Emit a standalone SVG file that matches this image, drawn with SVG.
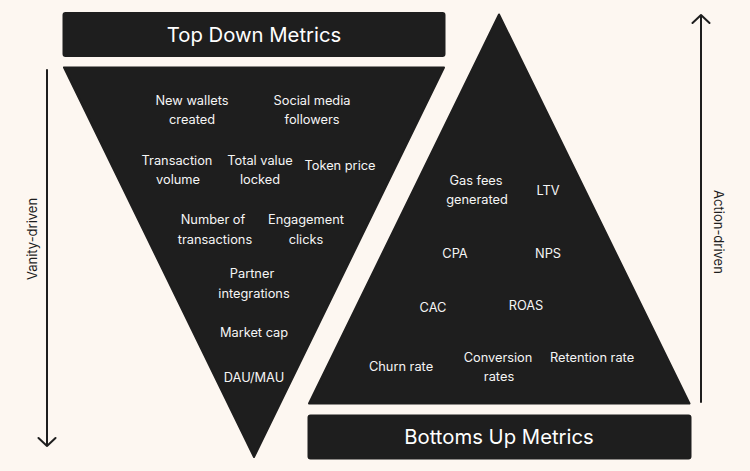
<svg xmlns="http://www.w3.org/2000/svg" width="750" height="471" viewBox="0 0 750 471">
<style>
.bg{fill:#fdf7f1}
.dark{fill:#1e1e1e;stroke:#1e1e1e;stroke-width:2;stroke-linejoin:round}
.t{font-family:Inter,"Noto Sans","Liberation Sans",sans-serif;font-size:12.8px;fill:#f5f5f5;text-anchor:middle}
.title{font-family:Inter,"Noto Sans","Liberation Sans",sans-serif;font-size:20.3px;fill:#ffffff;text-anchor:middle}
.side{font-family:Inter,"Noto Sans","Liberation Sans",sans-serif;font-size:13px;fill:#1e1e1e;text-anchor:middle}
.arr{fill:none;stroke:#1e1e1e;stroke-width:2;stroke-linecap:round;stroke-linejoin:round}
</style>
<rect class="bg" x="0" y="0" width="750" height="471"/>
<g id="top-title">
<rect class="dark" x="63.5" y="13" width="381" height="43" rx="2"/>
<text class="title" x="254" y="42">Top Down Metrics</text>
</g>
<g id="top-down-funnel">
<polygon class="dark" points="64,67.5 444,67.5 254,457"/>
<text class="t" x="192" y="105">New wallets</text>
<text class="t" x="192" y="124">created</text>
<text class="t" x="312" y="105">Social media</text>
<text class="t" x="312" y="124">followers</text>
<text class="t" x="177" y="165">Transaction</text>
<text class="t" x="178" y="184">volume</text>
<text class="t" x="260" y="165">Total value</text>
<text class="t" x="260" y="184">locked</text>
<text class="t" x="340" y="170">Token price</text>
<text class="t" x="213" y="224">Number of</text>
<text class="t" x="215" y="244">transactions</text>
<text class="t" x="306" y="224">Engagement</text>
<text class="t" x="306" y="244">clicks</text>
<text class="t" x="252" y="278">Partner</text>
<text class="t" x="254" y="298">integrations</text>
<text class="t" x="254" y="337">Market cap</text>
<text class="t" x="254" y="382">DAU/MAU</text>
</g>
<g id="bottom-up-pyramid">
<polygon class="dark" points="499,14.5 689.5,403.5 309,403.5"/>
<text class="t" x="476" y="185">Gas fees</text>
<text class="t" x="477" y="204">generated</text>
<text class="t" x="548" y="195">LTV</text>
<text class="t" x="455" y="258">CPA</text>
<text class="t" x="548" y="258">NPS</text>
<text class="t" x="433" y="312">CAC</text>
<text class="t" x="526" y="310">ROAS</text>
<text class="t" x="401" y="371">Churn rate</text>
<text class="t" x="498" y="362">Conversion</text>
<text class="t" x="499" y="381">rates</text>
<text class="t" x="592" y="362">Retention rate</text>
</g>
<g id="bottom-title">
<rect class="dark" x="308.5" y="415.5" width="382" height="43" rx="2"/>
<text class="title" x="499" y="444">Bottoms Up Metrics</text>
</g>
<g id="connectors">
<path class="arr" d="M47,70 L47,446 M38.5,438 L47,446 L55.5,438"/>
<path class="arr" d="M701,15 L701,402 M692.5,23 L701,15 L709.5,23"/>
</g>
<g id="vanity-label">
<text class="side" transform="translate(37,239) rotate(-90)">Vanity-driven</text>
</g>
<g id="action-label">
<text class="side" transform="translate(713.5,232) rotate(90)">Action-driven</text>
</g>
</svg>
